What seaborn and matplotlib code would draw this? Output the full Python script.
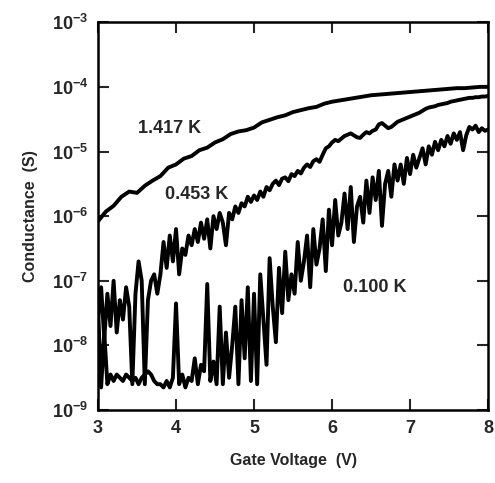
import numpy as np
import pandas as pd
import seaborn as sns
import matplotlib.pyplot as plt

# log10 of conductance (S)
volts_1417 = np.round(np.arange(3.0, 8.001, 0.1), 2)
log_g_1417 = [
    -6.08, -5.93, -5.84, -5.70, -5.62, -5.64, -5.53, -5.45, -5.38, -5.25,
    -5.20, -5.11, -5.07, -4.98, -4.94, -4.86, -4.81, -4.73, -4.69, -4.67,
    -4.63, -4.55, -4.51, -4.47, -4.44, -4.39, -4.36, -4.33, -4.31, -4.26,
    -4.23, -4.21, -4.19, -4.17, -4.15, -4.13, -4.12, -4.11, -4.10, -4.09,
    -4.08, -4.07, -4.06, -4.05, -4.04, -4.03, -4.02, -4.02, -4.01, -4.00,
    -4.00,
]

volts_noisy = np.round(np.arange(3.0, 8.001, 0.04), 2)
log_g_0453 = [
    -7.6, -7.1, -7.9, -7.2, -7.7, -7.0, -7.8, -7.3, -7.6, -7.1,
    -7.4, -8.6, -7.2, -6.7, -7.0, -8.6, -7.3, -7.0, -6.9, -7.2,
    -6.9, -6.4, -6.8, -6.3, -6.7, -6.2, -6.9, -6.5, -6.6, -6.3,
    -6.45, -6.2, -6.4, -6.1, -6.35, -6.05, -6.5, -6.0, -6.2, -5.95,
    -6.1, -6.45, -5.95, -6.05, -5.85, -5.95, -5.8, -5.85, -5.7, -5.78,
    -5.68, -5.75, -5.62, -5.7, -5.55, -5.6, -5.5, -5.45, -5.52, -5.42,
    -5.4, -5.46, -5.35, -5.38, -5.3, -5.34, -5.25, -5.2, -5.24, -5.15,
    -5.12, -5.16, -5.05, -4.95, -4.92, -4.86, -4.82, -4.84, -4.8, -4.76,
    -4.74, -4.72, -4.75, -4.78, -4.79, -4.74, -4.7, -4.72, -4.68, -4.66,
    -4.58, -4.56, -4.6, -4.64, -4.62, -4.58, -4.54, -4.52, -4.5, -4.48,
    -4.46, -4.44, -4.42, -4.4, -4.37, -4.34, -4.32, -4.31, -4.3, -4.28,
    -4.27, -4.26, -4.25, -4.23, -4.22, -4.21, -4.2, -4.19, -4.18, -4.17,
    -4.17, -4.16, -4.16, -4.15, -4.15, -4.14,
]
log_g_0100 = [
    -7.4, -8.65, -7.8, -8.6, -8.45, -8.55, -8.45, -8.5, -8.55, -8.45,
    -8.5, -8.55, -8.5, -8.6, -8.5, -8.45, -8.4, -8.45, -8.55, -8.6,
    -8.6, -8.65, -8.55, -8.65, -8.5, -7.35, -8.6, -8.45, -8.65, -8.5,
    -8.55, -8.2, -8.6, -8.3, -8.4, -7.05, -8.55, -8.25, -8.6, -7.4,
    -8.6, -7.8, -8.5, -8.0, -7.4, -8.6, -7.3, -8.2, -7.1, -8.55,
    -7.2, -8.6, -6.9, -7.6, -8.3, -6.65, -7.4, -7.95, -6.8, -7.5,
    -6.55, -7.3, -6.9, -7.2, -6.4, -7.0, -6.7, -6.3, -7.1, -6.2,
    -6.75, -6.5, -6.05, -6.85, -5.9, -6.45, -5.75, -6.3, -6.1, -5.65,
    -6.2, -5.55, -6.4, -5.85, -5.7, -6.1, -5.45, -5.95, -5.4, -5.75,
    -5.3, -6.15, -5.5, -5.3, -5.7, -5.2, -5.45, -5.2, -5.5, -5.1,
    -5.35, -5.05, -5.25, -5.1, -4.95, -5.2, -4.92, -5.05, -4.85, -4.98,
    -4.82, -4.92, -4.76, -4.88, -4.72, -4.82, -4.7, -4.98, -4.75, -4.62,
    -4.66, -4.6, -4.7, -4.64, -4.68, -4.66,
]

labels = ["1.417 K", "0.453 K", "0.100 K"]
label_pos = [(3.51, -4.64), (3.86, -5.67), (6.14, -7.10)]

sns.set_theme(style="ticks")
plt.rcParams["font.family"] = ["Liberation Sans", "DejaVu Sans"]
plt.rcParams["font.weight"] = "bold"
plt.rcParams["mathtext.fontset"] = "custom"
plt.rcParams["mathtext.rm"] = "Liberation Sans:bold"
plt.rcParams["mathtext.bf"] = "Liberation Sans:bold"
plt.rcParams["mathtext.default"] = "bf"

fig = plt.figure(figsize=(4.95, 4.83), dpi=100)
ax = fig.add_axes([0.198, 0.151, 0.788, 0.803])

df_hi = pd.DataFrame({"V": volts_1417, "G": 10.0 ** np.array(log_g_1417)})
df_mid = pd.DataFrame({"V": volts_noisy, "G": 10.0 ** np.array(log_g_0453)})
df_lo = pd.DataFrame({"V": volts_noisy, "G": 10.0 ** np.array(log_g_0100)})

for d, lw in [(df_lo, 2.8), (df_mid, 2.8), (df_hi, 2.8)]:
    sns.lineplot(data=d, x="V", y="G", ax=ax, color="black", lw=lw,
                 sort=False, estimator=None)

ax.set_yscale("log")
ax.set_xlim(3, 8)
ax.set_ylim(1e-9, 1e-3)
ax.set_xticks([3, 4, 5, 6, 7, 8])
ax.set_yticks([1e-9, 1e-8, 1e-7, 1e-6, 1e-5, 1e-4, 1e-3])
ax.minorticks_off()
ax.tick_params(direction="in", length=8, width=1.5, top=True, right=True,
               labelsize=13, pad=7)
for s in ax.spines.values():
    s.set_linewidth(1.8)
    s.set_color("black")

for txt, (vx, ly) in zip(labels, label_pos):
    ax.text(vx, 10 ** ly, txt, ha="left", va="center", fontsize=13,
            fontweight="bold")

ax.set_xlabel("Gate Voltage  (V)", fontsize=11.5, fontweight="bold", labelpad=12)
ax.set_ylabel("Conductance  (S)", fontsize=11.5, fontweight="bold", labelpad=10)

fig.savefig("out.png", dpi=100)
